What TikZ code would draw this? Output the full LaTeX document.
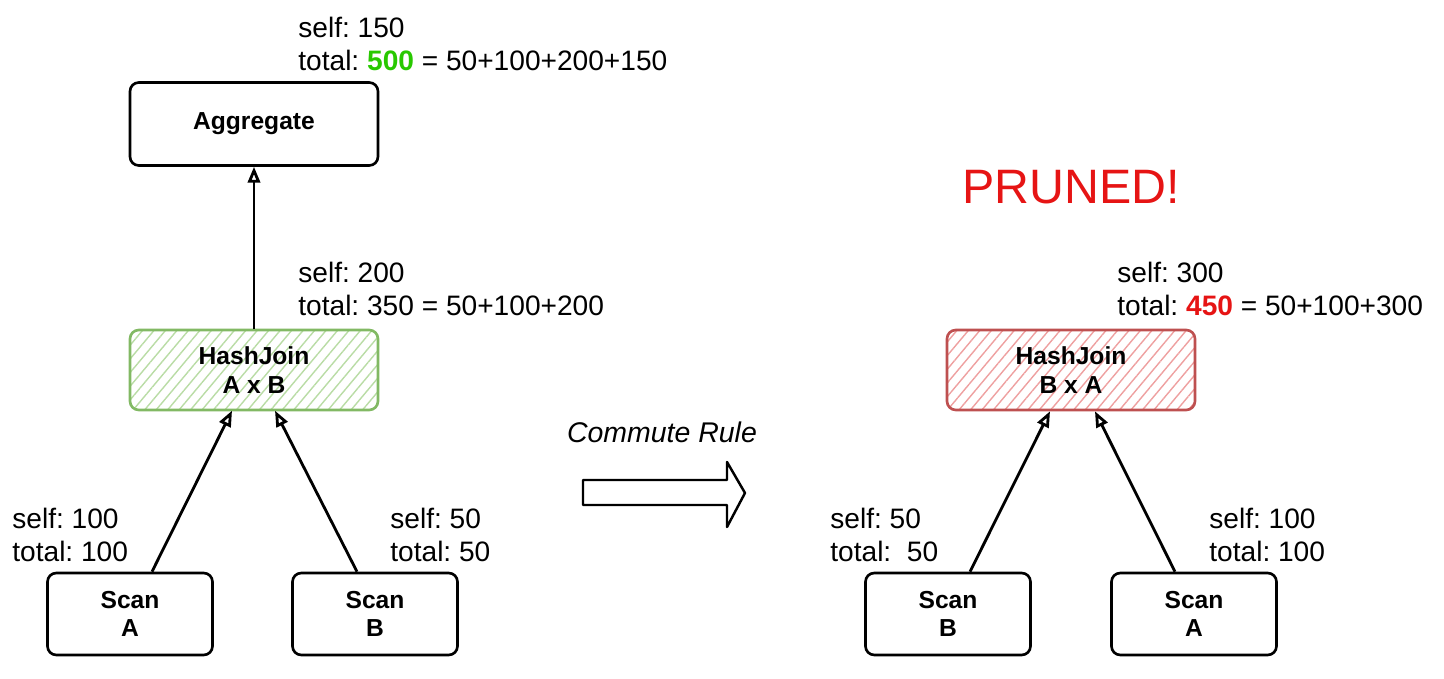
\documentclass[tikz,border=0pt]{standalone}
\usepackage{fontspec}
\setmainfont{Liberation Sans}
\usetikzlibrary{arrows.meta,patterns.meta}
\definecolor{okgreen}{RGB}{40,200,0}
\definecolor{badred}{RGB}{230,20,20}
\definecolor{joingreen}{RGB}{130,185,100}
\definecolor{hatchgreen}{RGB}{185,220,165}
\definecolor{joinred}{RGB}{190,80,80}
\definecolor{hatchred}{RGB}{238,160,160}
\frenchspacing
\tikzset{
  opbox/.style={draw, line width=1.5pt, rounded corners=5pt, align=center,
    font=\fontsize{14}{16.4}\selectfont\bfseries},
  greenjoin/.style={opbox, draw=joingreen,
    pattern={Lines[angle=50, distance=5pt, line width=0.8pt]}, pattern color=hatchgreen},
  redjoin/.style={opbox, draw=joinred,
    pattern={Lines[angle=50, distance=5pt, line width=0.8pt]}, pattern color=hatchred},
  cost/.style={anchor=west, inner sep=0pt, align=left,
    font=\fontsize{16}{18.8}\selectfont},
  flow/.style={line width=1.6pt, -{Triangle[open, length=9pt, width=7pt]}}
}
\begin{document}
\begin{tikzpicture}
  \useasboundingbox (0,0) rectangle (28.88,13.56);
  % left plan
  \node [opbox, minimum width=4.96cm, minimum height=1.66cm] (agg) at (5.08, 11.08) {Aggregate};
  \node [greenjoin, minimum width=4.96cm, minimum height=1.6cm] (joinL) at (5.08, 6.16) {HashJoin\\A x B};
  \node [opbox, minimum width=3.3cm, minimum height=1.64cm] (scanA) at (2.6, 1.28) {Scan\\A};
  \node [opbox, minimum width=3.3cm, minimum height=1.64cm] (scanB) at (7.5, 1.28) {Scan\\B};
  \draw [flow] (joinL) -- (agg);
  \draw [flow] ([xshift=0.44cm]scanA.north) -- ([xshift=-0.44cm]joinL.south);
  \draw [flow] ([xshift=-0.36cm]scanB.north) -- ([xshift=0.42cm]joinL.south);
  \node [cost] (aggCost) at (5.96, 12.69) {self: 150\\total: \textcolor{okgreen}{\textbf{500}} = 50+100+200+150};
  \node [cost] (joinLCost) at (5.96, 7.79) {self: 200\\total: 350 = 50+100+200};
  \node [cost] (scanACost) at (0.24, 2.86) {self: 100\\total: 100};
  \node [cost] (scanBCost) at (7.8, 2.86) {self: 50\\total: 50};
  % rule
  \node [font=\fontsize{16.2}{19}\selectfont\itshape] (rule) at (13.24, 4.92) {Commute Rule};
  \draw [line width=1.4pt, line join=round] (11.66, 3.96) -- (14.54, 3.96) -- (14.54, 4.32)
    -- (14.9, 3.7) -- (14.54, 3.02) -- (14.54, 3.46) -- (11.66, 3.46) -- cycle;
  % right plan
  \node [text=badred, font=\fontsize{27.5}{30}\selectfont] (pruned) at (21.42, 9.82) {PRUNED!};
  \node [redjoin, minimum width=4.96cm, minimum height=1.6cm] (joinR) at (21.42, 6.16) {HashJoin\\B x A};
  \node [opbox, minimum width=3.3cm, minimum height=1.64cm] (scanB2) at (18.96, 1.28) {Scan\\B};
  \node [opbox, minimum width=3.3cm, minimum height=1.64cm] (scanA2) at (23.88, 1.28) {Scan\\A};
  \draw [flow] ([xshift=0.44cm]scanB2.north) -- ([xshift=-0.42cm]joinR.south);
  \draw [flow] ([xshift=-0.38cm]scanA2.north) -- ([xshift=0.48cm]joinR.south);
  \node [cost] (joinRCost) at (22.34, 7.79) {self: 300\\total: \textcolor{badred}{\textbf{450}} = 50+100+300};
  \node [cost] (scanB2Cost) at (16.6, 2.86) {self: 50\\total:\ \ 50};
  \node [cost] (scanA2Cost) at (24.18, 2.86) {self: 100\\total: 100};
\end{tikzpicture}
\end{document}
